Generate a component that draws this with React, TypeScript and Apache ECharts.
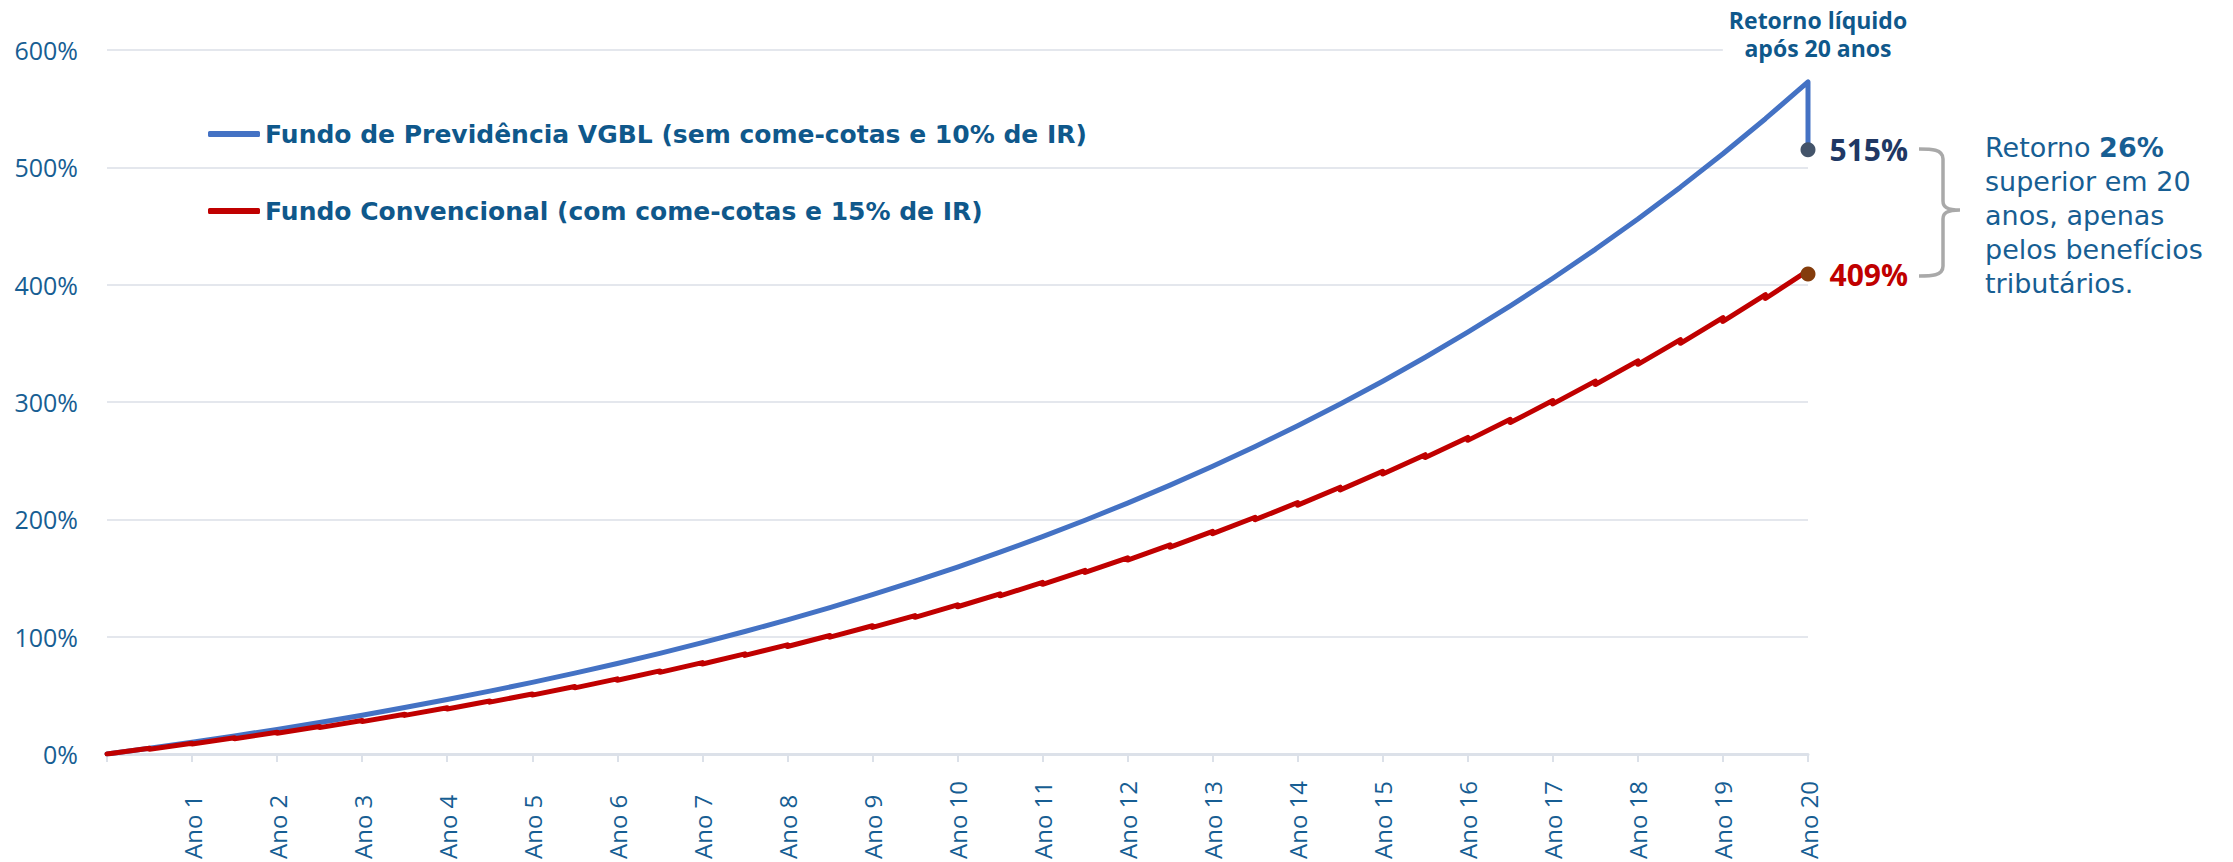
import React, { useEffect, useRef } from "react";
import * as echarts from "echarts";

// x positions (years), every half-year
const halfYears = [
  0, 0.5, 1, 1.5, 2, 2.5, 3, 3.5, 4, 4.5, 5, 5.5, 6, 6.5, 7, 7.5, 8, 8.5, 9, 9.5, 10,
  10.5, 11, 11.5, 12, 12.5, 13, 13.5, 14, 14.5, 15, 15.5, 16, 16.5, 17, 17.5, 18, 18.5,
  19, 19.5, 20,
];

// VGBL gross accumulated return (%)
const blueValues = [
  0, 4.88, 10, 15.37, 21, 26.91, 33.1, 39.6, 46.41, 53.56, 61.05, 68.91, 77.16, 85.8,
  94.87, 104.38, 114.36, 124.82, 135.79, 147.3, 159.37, 172.03, 185.31, 199.24, 213.84,
  229.16, 245.23, 262.08, 279.75, 298.28, 317.72, 338.11, 359.5, 381.92, 405.45, 430.12,
  455.99, 483.13, 511.59, 541.44, 572.75,
];

// Conventional fund: value right after each come-cotas (%)
const redAfterComeCotas = [
  0, 4.1, 8.5, 13.0, 17.7, 22.5, 27.6, 32.9, 38.4, 44.2, 50.2, 56.4, 62.9, 69.6, 76.7,
  84.0, 91.6, 99.6, 107.9, 116.5, 125.5, 134.8, 144.6, 154.7, 165.3, 176.3, 187.8, 199.7,
  212.1, 225.1, 238.6, 252.6, 267.3, 282.5, 298.4, 314.9, 332.1, 350.0, 368.7, 388.2, 408.9,
];

// Conventional fund: value just before each come-cotas (%)
const redBeforeComeCotas = [
  4.9, 9.2, 13.8, 18.5, 23.4, 28.5, 33.9, 39.4, 45.2, 51.2, 57.5, 64.0, 70.8, 77.9, 85.3,
  93.0, 101.0, 109.3, 118.0, 127.1, 136.5, 146.3, 156.5, 167.2, 178.2, 189.8, 201.8, 214.3,
  227.4, 241.0, 255.1, 269.8, 285.2, 301.2, 317.8, 335.1, 353.2, 372.0, 391.6, 412.0,
];

const finalNetValues = [515, 409];
const finalLabels = ["515%", "409%"];

const yearLabels = [
  "", "Ano 1", "Ano 2", "Ano 3", "Ano 4", "Ano 5", "Ano 6", "Ano 7", "Ano 8", "Ano 9",
  "Ano 10", "Ano 11", "Ano 12", "Ano 13", "Ano 14", "Ano 15", "Ano 16", "Ano 17",
  "Ano 18", "Ano 19", "Ano 20",
];

const seriesNames = [
  "Fundo de Previdência VGBL (sem come-cotas e 10% de IR)",
  "Fundo Convencional (com come-cotas e 15% de IR)",
];

const titleLines = ["Retorno líquido", "após 20 anos"];
const noteBoldPrefix = "Retorno ";
const noteBold = "26%";
const noteLines = ["superior em 20", "anos, apenas", "pelos benefícios", "tributários."];

const FONT = '"Open Sans", "Noto Sans", sans-serif';
const WIDE_FONT = '"DejaVu Sans", "Open Sans", sans-serif';
const TEXT_BLUE = "#175E93";
const BRACE_PATH =
  "M0 0 C12 0 24 0 24 10 L24 52 C24 58 28 61 41 61 C28 61 24 64 24 70 L24 117 C24 127 12 127 0 127";

export default function App() {
  const ref = useRef<HTMLDivElement>(null);

  useEffect(() => {
    document.body.style.margin = "0";
    if (!ref.current) return;
    echarts.graphic.registerShape("brace", echarts.graphic.extendPath(BRACE_PATH, {}));
    const chart = echarts.init(ref.current, null, { renderer: "svg" });

    const blueData: number[][] = halfYears.map((x, i) => [x, blueValues[i]]);
    blueData.push([20, finalNetValues[0]]);

    const redData: number[][] = [[halfYears[0], redAfterComeCotas[0]]];
    for (let i = 1; i < halfYears.length; i++) {
      redData.push([halfYears[i], redBeforeComeCotas[i - 1]]);
      redData.push([halfYears[i], redAfterComeCotas[i]]);
    }

    const noteText =
      `{n|${noteBoldPrefix}}{b|${noteBold}}\n` + noteLines.map((l) => `{n|${l}}`).join("\n");

    chart.setOption({
      animation: false,
      grid: { left: 107, right: 425, top: 50, bottom: 107, containLabel: false },
      legend: {
        data: seriesNames.map((n) => ({ name: n, icon: "roundRect" })),
        orient: "vertical",
        left: 208,
        top: 119,
        padding: 0,
        itemWidth: 52,
        itemHeight: 6,
        itemGap: 47,
        selectedMode: false,
        textStyle: {
          fontFamily: WIDE_FONT,
          fontWeight: "bold",
          fontSize: 25,
          lineHeight: 30,
          color: "#0F588B",
        },
      },
      xAxis: {
        type: "value",
        min: 0,
        max: 20,
        interval: 1,
        axisLine: { lineStyle: { color: "#DCE1E9", width: 3 } },
        axisTick: { show: true, length: 8, lineStyle: { color: "#DCE1E9", width: 2 } },
        splitLine: { show: false },
        axisLabel: {
          rotate: 90,
          align: "left",
          verticalAlign: "middle",
          margin: 105,
          showMinLabel: true,
          showMaxLabel: true,
          fontFamily: FONT,
          fontSize: 24,
          color: TEXT_BLUE,
          formatter: (v: number) => yearLabels[Math.round(v)] ?? "",
        },
      },
      yAxis: {
        type: "value",
        min: 0,
        max: 600,
        interval: 100,
        axisLine: { show: false },
        axisTick: { show: false },
        splitLine: { lineStyle: { color: "#E4E7ED", width: 2 } },
        axisLabel: {
          formatter: "{value}%",
          margin: 29,
          fontFamily: FONT,
          fontSize: 25,
          color: TEXT_BLUE,
        },
      },
      series: [
        {
          name: seriesNames[0],
          type: "line",
          data: blueData,
          showSymbol: false,
          symbol: "none",
          silent: true,
          lineStyle: { color: "#4472C4", width: 5, join: "round", cap: "round" },
          itemStyle: { color: "#4472C4" },
          z: 2,
        },
        {
          name: seriesNames[1],
          type: "line",
          data: redData,
          showSymbol: false,
          symbol: "none",
          silent: true,
          lineStyle: { color: "#C00000", width: 5, join: "round", cap: "round" },
          itemStyle: { color: "#C00000" },
          z: 3,
        },
        {
          name: "fim-vgbl",
          type: "scatter",
          data: [[20, finalNetValues[0]]],
          symbolSize: 15,
          silent: true,
          itemStyle: { color: "#44546A", opacity: 1 },
          z: 5,
          label: {
            show: true,
            position: "right",
            distance: 14,
            formatter: () => finalLabels[0],
            fontFamily: FONT,
            fontWeight: "bold",
            fontSize: 30,
            color: "#203864",
          },
        },
        {
          name: "fim-convencional",
          type: "scatter",
          data: [[20, finalNetValues[1]]],
          symbolSize: 15,
          silent: true,
          itemStyle: { color: "#843C0C", opacity: 1 },
          z: 5,
          label: {
            show: true,
            position: "right",
            distance: 14,
            formatter: () => finalLabels[1],
            fontFamily: FONT,
            fontWeight: "bold",
            fontSize: 30,
            color: "#C00000",
          },
        },
      ],
      graphic: [
        {
          type: "text",
          x: 1818,
          y: 4,
          z: 10,
          style: {
            text: titleLines.join("\n"),
            font: `bold 23px ${FONT}`,
            fill: "#0F588B",
            align: "center",
            verticalAlign: "top",
            lineHeight: 28,
            backgroundColor: "#ffffff",
            padding: [2, 6],
          },
        },
        {
          type: "brace",
          x: 1919,
          y: 149,
          z: 10,
          style: { stroke: "#A9A9A9", lineWidth: 3.5, fill: "none" },
        },
        {
          type: "text",
          x: 1985,
          y: 130,
          z: 10,
          style: {
            text: noteText,
            verticalAlign: "top",
            rich: {
              n: { fontFamily: WIDE_FONT, fontSize: 27, lineHeight: 34, fill: TEXT_BLUE },
              b: {
                fontFamily: WIDE_FONT,
                fontSize: 27,
                lineHeight: 34,
                fontWeight: "bold",
                fill: TEXT_BLUE,
              },
            },
          },
        },
      ],
    });

    return () => chart.dispose();
  }, []);

  return <div ref={ref} style={{ width: 2233, height: 862 }} />;
}
